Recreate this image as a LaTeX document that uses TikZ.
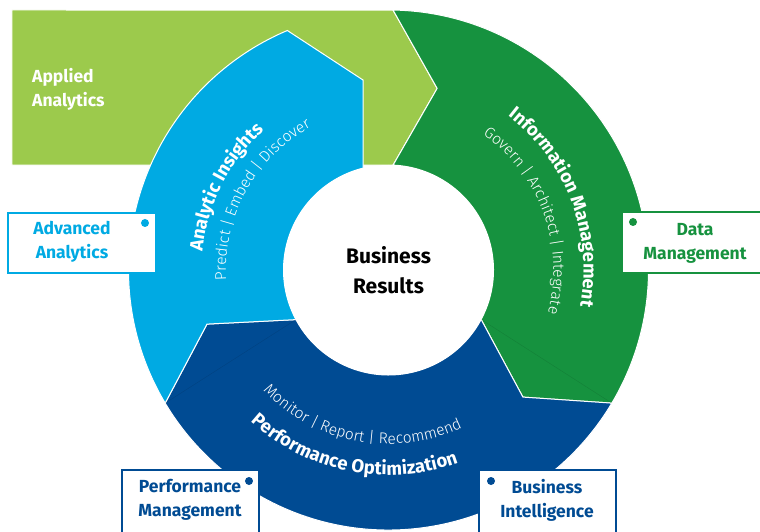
\documentclass[tikz,border=0pt]{standalone}
\usepackage{fontspec}
\setmainfont{Fira Sans}
\newfontfamily\lightfont{Fira Sans Light}
\usetikzlibrary{decorations.text}
\definecolor{lgreen}{HTML}{9CCA4C}
\definecolor{dgreen}{HTML}{16923F}
\definecolor{lblue}{HTML}{00AAE3}
\definecolor{dblue}{HTML}{004B93}
\newcommand\arcbold{\bfseries\fontsize{18.5}{18.5}\selectfont\color{white}}
\newcommand\arclight{\lightfont\fontsize{15.5}{15.5}\selectfont\color{white}}

\begin{document}
\begin{tikzpicture}[x=1pt,y=1pt,
  region/.style={draw=white,line width=1pt},
  seam/.style={line width=0.4pt,black,opacity=0.12},
  boxfont/.style={font=\bfseries\fontsize{17.5}{24}\selectfont},
  labelbox/.style={draw=#1,line width=1.3pt,fill=white,inner sep=0pt},
  dot/.style={circle,fill=#1,minimum size=8pt,inner sep=0pt},
  arctext/.style={decorate,decoration={text along path,text align=center,text={#1}}}]
			\def \outer {260}
			\def \inner {105}
			\useasboundingbox (-388.5,-262) rectangle (371.5,270);
%-----Applied Analytics arrow-----
			\path[fill=lgreen,region] (-376.5,260) -- (89:\outer) -- (75:188) -- (87.5:\inner) -- (-376.5,104.9) -- cycle;
			\node[anchor=west,align=left,text=white,boxfont,inner sep=0pt] (applied) at (-356.5,180.5) {Applied\\Analytics};
%-----the ring, one arrow for each part-----
			\path[fill=dgreen,region] (89:\outer) arc[start angle=89,end angle=-30.8,radius=\outer] -- (-43.4:185) -- (-28.1:\inner) arc[start angle=-28.1,end angle=87.5,radius=\inner] -- (75:188) -- cycle;
			\path[fill=dblue,region] (-30.8:\outer) arc[start angle=-30.8,end angle=-149.2,radius=\outer] -- (196.6:189.4) -- (208.2:\inner) arc[start angle=208.2,end angle=331.9,radius=\inner] -- (-43.4:185) -- cycle;
			\path[fill=lblue,region] (210.8:\outer) arc[start angle=210.8,end angle=112.9,radius=\outer] -- (-25.5,190) -- (104:\inner) arc[start angle=104,end angle=208.2,radius=\inner] -- (196.6:189.4) -- cycle;
			\draw[seam] (-28.1:\inner) -- (-30.8:\outer);
			\draw[seam] (208.2:\inner) -- (210.8:\outer);
			\node[circle,fill=white,minimum size=210pt,inner sep=0pt,align=center,font=\bfseries\fontsize{21}{30}\selectfont] (core) at (0,0) {Business\\Results};
%-----texts along the ring-----
			\path[arctext={|\arcbold|Analytic Insights}] (203:187) arc[start angle=203,end angle=103,radius=187];
			\path[arctext={|\arclight|Predict {\textbar} Embed {\textbar} Discover}] (211:162.5) arc[start angle=211,end angle=91,radius=162.5];
			\path[arctext={|\arcbold|Information Management}] (80.75:195) arc[start angle=80.75,end angle=-39.25,radius=195];
			\path[arctext={|\arclight|Govern {\textbar} Architect {\textbar} Integrate}] (85:165) arc[start angle=85,end angle=-45,radius=165];
			\path[arctext={|\arcbold|Performance Optimization}] (198.8:205) arc[start angle=198.8,end angle=318.8,radius=205];
			\path[arctext={|\arclight|Monitor {\textbar} Report {\textbar} Recommend}] (194.5:174) arc[start angle=194.5,end angle=324.5,radius=174];
%-----the four boxes-----
			\foreach \nm/\bx/\by/\w/\h/\tx/\ty/\dx/\dy/\col/\txt in {
				adv/-306.5/27/148/60/-316.5/28/-243.5/47/lblue/{Advanced\\Analytics},
				data/303.5/27.5/140/61/306.5/27/244.5/48/dgreen/{Data\\Management},
				perf/-198/-235/137/70/-198.5/-230/-139.5/-211/dblue/{Performance\\Management},
				bi/159/-235/137/70/158.5/-230/102.5/-211/dblue/{Business\\Intelligence}}
				{
					\node[labelbox=\col,minimum width=\w pt,minimum height=\h pt] (\nm box) at (\bx,\by) {};
					\node[boxfont,text=\col,align=center,inner sep=0pt] (\nm text) at (\tx,\ty) {\txt};
					\node[dot=\col] (\nm dot) at (\dx,\dy) {};
				}
		\end{tikzpicture}
\end{document}
